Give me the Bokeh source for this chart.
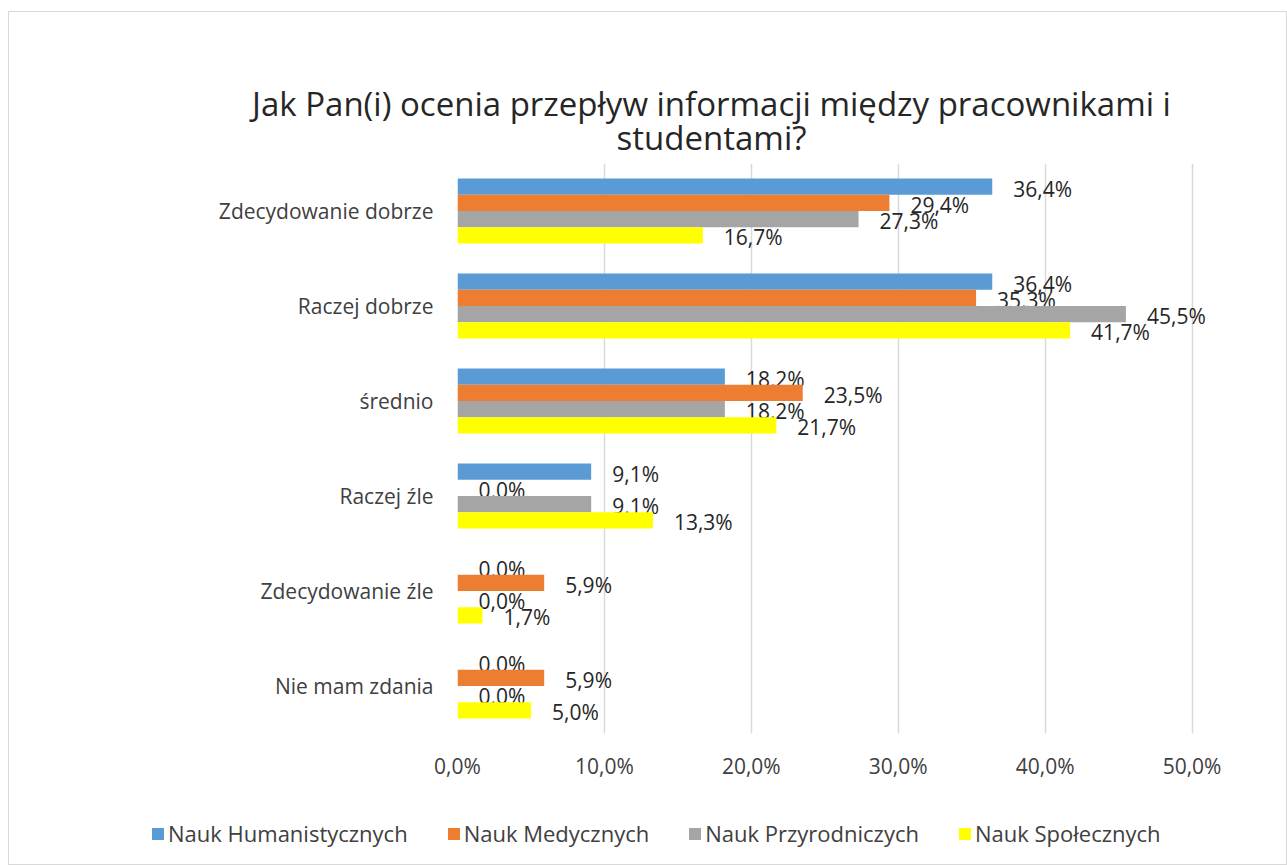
from bokeh.plotting import figure
from bokeh.layouts import column
from bokeh.models import (ColumnDataSource, FactorRange, FixedTicker, Legend, LegendItem, Label)
from bokeh.transform import dodge
from bokeh.core.properties import value
from bokeh.embed import file_html
from bokeh.resources import INLINE

categories = ["Zdecydowanie dobrze", "Raczej dobrze", "średnio", "Raczej źle",
              "Zdecydowanie źle", "Nie mam zdania"]
series_names = ["Nauk Humanistycznych", "Nauk Medycznych", "Nauk Przyrodniczych", "Nauk Społecznych"]
humanistycznych = [36.4, 36.4, 18.2, 9.1, 0.0, 0.0]
medycznych = [29.4, 35.3, 23.5, 0.0, 5.9, 5.9]
przyrodniczych = [27.3, 45.5, 18.2, 9.1, 0.0, 0.0]
spolecznych = [16.7, 41.7, 21.7, 13.3, 1.7, 5.0]
colors = ["#5b9bd5", "#ed7d31", "#a5a5a5", "#ffff00"]
x_ticks = [0, 10, 20, 30, 40, 50]
x_tick_labels = ["0,0%", "10,0%", "20,0%", "30,0%", "40,0%", "50,0%"]
title_lines = ["Jak Pan(i) ocenia przepływ informacji między pracownikami i", "studentami?"]

FONT = "Open Sans"
TXT = "#404040"
W = 1277


def blank(height):
    f = figure(width=W, height=height, output_backend="svg", toolbar_location=None,
               x_range=(0, W), y_range=(0, height), min_border=0, frame_align=False)
    f.axis.visible = False
    f.grid.grid_line_color = None
    f.outline_line_color = None
    return f


# ---- title strip ----
t = blank(151)
for line, ty in zip(title_lines, [60, 26]):
    t.add_layout(Label(x=702, y=ty, text=line, text_align="center", text_baseline="middle",
                       text_font=FONT, text_font_size="33px", text_color="#262626"))

# ---- main chart ----
p = figure(width=W, height=645, output_backend="svg", toolbar_location=None,
           y_range=FactorRange(factors=list(reversed(categories)), range_padding=0),
           x_range=(0, 55), frame_align=False,
           min_border_left=448, min_border_top=0, min_border_bottom=75, min_border_right=21)
p.outline_line_color = None

bar_h = 65 / 95 / 4
offsets = [1.5 * bar_h, 0.5 * bar_h, -0.5 * bar_h, -1.5 * bar_h]
all_series = [humanistycznych, medycznych, przyrodniczych, spolecznych]

for name, vals, col, off in zip(series_names, all_series, colors, offsets):
    src = ColumnDataSource(dict(cat=categories, v=vals,
                                lab=[f"{v:.1f}".replace(".", ",") + "%" for v in vals]))
    p.hbar(y=dodge("cat", off, range=p.y_range), right="v", left=0, height=bar_h,
           source=src, fill_color=col, line_color=None)
    p.text(x="v", y=dodge("cat", off, range=p.y_range), text="lab", source=src,
           x_offset=21, y_offset=2, text_align="left", text_baseline="middle",
           text_font=value(FONT), text_font_size="21px", text_color="#262626")

p.xaxis.ticker = FixedTicker(ticks=x_ticks)
p.xaxis.major_label_overrides = {t_: l for t_, l in zip(x_ticks, x_tick_labels)}
p.xaxis.axis_line_color = None
p.xaxis.major_tick_line_color = None
p.xaxis.minor_tick_line_color = None
p.xaxis.major_label_standoff = 12
p.xaxis.major_label_text_font = FONT
p.xaxis.major_label_text_font_size = "21px"
p.xaxis.major_label_text_color = TXT

p.yaxis.axis_line_color = None
p.yaxis.major_tick_line_color = None
p.yaxis.major_label_standoff = 18
p.yaxis.major_label_text_font = FONT
p.yaxis.major_label_text_font_size = "21px"
p.yaxis.major_label_text_color = TXT

p.xgrid.ticker = FixedTicker(ticks=x_ticks)
p.xgrid.grid_line_color = "#d9d9d9"
p.xgrid.grid_line_width = 1.5
p.ygrid.grid_line_color = None

# ---- legend strip (zero-size proxy glyphs only carry the legend swatches) ----
lg = blank(56)
items = []
for name, col in zip(series_names, colors):
    r = lg.hbar(y=[0], left=[0], right=[0], height=0, fill_color=col, line_color=None)
    items.append(LegendItem(label=name, renderers=[r]))
legend = Legend(items=items, orientation="horizontal", location=(141, 16),
                label_text_font=FONT, label_text_font_size="22px", label_text_color=TXT,
                glyph_width=15, glyph_height=15, label_standoff=3, spacing=38,
                padding=0, margin=0, label_height=24,
                border_line_color=None, background_fill_alpha=0)
lg.add_layout(legend, "center")

layout = column(t, p, lg, spacing=0,
                styles={"border": "1px solid #d9d9d9", "margin-left": "8px", "margin-top": "11px"})

open("out.html", "w").write(file_html(layout, INLINE))
